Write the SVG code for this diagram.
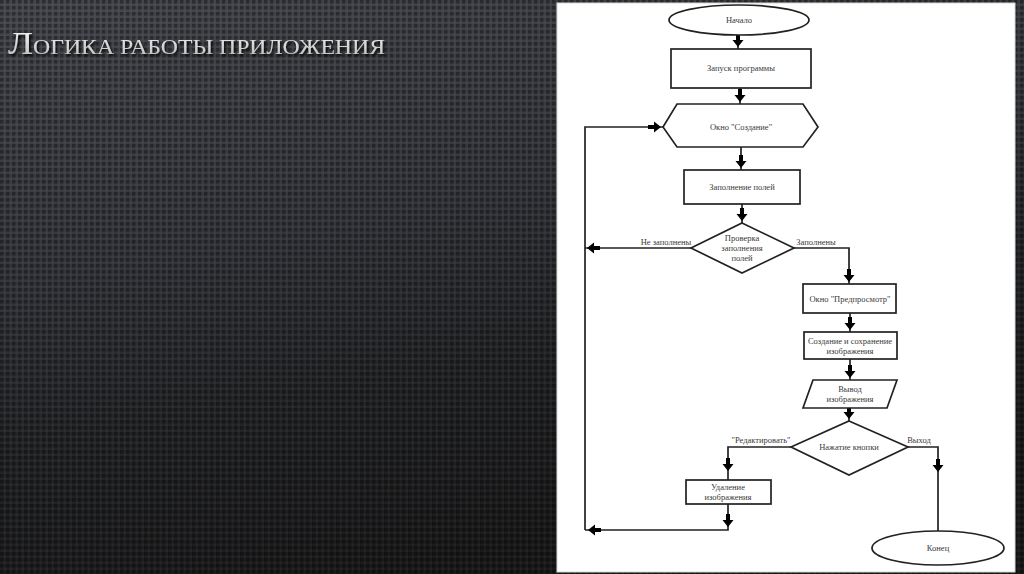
<svg xmlns="http://www.w3.org/2000/svg" xmlns:xlink="http://www.w3.org/1999/xlink" width="1024" height="574" viewBox="0 0 1024 574">
  <defs>
    <linearGradient id="bg" x1="0" y1="0" x2="0.35" y2="1">
      <stop offset="0" stop-color="#45474d"/>
      <stop offset="0.45" stop-color="#33353a"/>
      <stop offset="0.7" stop-color="#242527"/>
      <stop offset="1" stop-color="#1a1a1b"/>
    </linearGradient>
    <pattern id="dots" width="6" height="6" patternUnits="userSpaceOnUse">
      <rect x="0" y="0" width="3.5" height="3.5" fill="#000" fill-opacity="0.35"/>
      <rect x="3.5" y="3.5" width="2.5" height="2.5" fill="#fff" fill-opacity="0.04"/>
    </pattern>
    <linearGradient id="tg" x1="0" y1="0" x2="0" y2="1">
      <stop offset="0" stop-color="#ffffff"/>
      <stop offset="1" stop-color="#b8b8b8"/>
    </linearGradient>
    <filter id="sh" x="-5%" y="-30%" width="110%" height="160%">
      <feDropShadow dx="1.5" dy="2" stdDeviation="1.2" flood-color="#000" flood-opacity="0.9"/>
    </filter>
    <path id="arr" d="M-2,-13 H2 V-7 H5.5 L0,0 L-5.5,-7 H-2 Z" fill="#000"/>
  </defs>
  <style>
    .shape { fill: #fff; stroke: #222; stroke-width: 1.7; }
    .line { fill: none; stroke: #222; stroke-width: 1.7; }
    .t { font-family: "Liberation Serif", "Times New Roman", serif; font-size: 8.5px; fill: #3a3a3a; text-anchor: middle; }
    .title { font-family: "Liberation Serif", "Times New Roman", serif; fill: url(#tg); filter: url(#sh); }
  </style>

  <rect width="1024" height="574" fill="url(#bg)"/>
  <rect width="1024" height="574" fill="url(#dots)"/>

  <text class="title" x="8" y="54" textLength="377" lengthAdjust="spacingAndGlyphs"><tspan font-size="32">Л</tspan><tspan font-size="20.5">ОГИКА РАБОТЫ ПРИЛОЖЕНИЯ</tspan></text>

  <rect x="557" y="3" width="458" height="569" fill="#fff" stroke="#d8d8d8" stroke-width="1"/>

  <g id="connectors">
    <line class="line" x1="738" y1="35" x2="738" y2="49"/>
    <line class="line" x1="740" y1="88" x2="740" y2="104"/>
    <line class="line" x1="741" y1="147" x2="741" y2="170"/>
    <line class="line" x1="742" y1="204" x2="742" y2="223"/>
    <polyline class="line" points="691,248 585,248"/>
    <polyline class="line" points="794,248 849,248 849,284"/>
    <line class="line" x1="850" y1="313" x2="850" y2="332"/>
    <line class="line" x1="850" y1="359" x2="850" y2="380"/>
    <line class="line" x1="849" y1="408" x2="849" y2="421"/>
    <polyline class="line" points="791,447 728,447 728,480"/>
    <polyline class="line" points="908,447 938,447 938,531"/>
    <polyline class="line" points="728,504 728,530 585,530"/>
    <polyline class="line" points="585,530 585,127 663,127"/>
    <use xlink:href="#arr" transform="translate(738,47)"/>
    <use xlink:href="#arr" transform="translate(740,102)"/>
    <use xlink:href="#arr" transform="translate(741,168)"/>
    <use xlink:href="#arr" transform="translate(742,221)"/>
    <use xlink:href="#arr" transform="translate(587,248) rotate(90)"/>
    <use xlink:href="#arr" transform="translate(849,282)"/>
    <use xlink:href="#arr" transform="translate(850,330)"/>
    <use xlink:href="#arr" transform="translate(850,378)"/>
    <use xlink:href="#arr" transform="translate(849,419)"/>
    <use xlink:href="#arr" transform="translate(728,471)"/>
    <use xlink:href="#arr" transform="translate(938,472)"/>
    <use xlink:href="#arr" transform="translate(728,527)"/>
    <use xlink:href="#arr" transform="translate(588,530) rotate(90)"/>
    <use xlink:href="#arr" transform="translate(661,127) rotate(-90)"/>
    <text class="t" x="666" y="245">Не заполнены</text>
    <text class="t" x="816" y="245">Заполнены</text>
    <text class="t" x="761" y="443">"Редактировать"</text>
    <text class="t" x="919" y="443">Выход</text>
  </g>

  <g id="start">
    <ellipse class="shape" cx="739" cy="20" rx="70" ry="15"/>
    <text class="t" x="739" y="23">Начало</text>
  </g>
  <g id="launch">
    <rect class="shape" x="671" y="49" width="140" height="39"/>
    <text class="t" x="741" y="71">Запуск программы</text>
  </g>
  <g id="create-window">
    <polygon class="shape" points="663,127 677,104 803,104 818,127 803,147 677,147"/>
    <text class="t" x="741" y="130">Окно "Создание"</text>
  </g>
  <g id="fill-fields">
    <rect class="shape" x="684" y="170" width="116" height="34"/>
    <text class="t" x="742" y="190">Заполнение полей</text>
  </g>
  <g id="check">
    <polygon class="shape" points="742,223 794,248 742,273 691,248"/>
    <text class="t" x="742" y="241">Проверка</text>
    <text class="t" x="742" y="251">заполнения</text>
    <text class="t" x="742" y="261">полей</text>
  </g>
  <g id="preview">
    <rect class="shape" x="803" y="284" width="93" height="29"/>
    <text class="t" x="850" y="302">Окно "Предпросмотр"</text>
  </g>
  <g id="save">
    <rect class="shape" x="804" y="332" width="93" height="27"/>
    <text class="t" x="850" y="344">Создание и сохранение</text>
    <text class="t" x="850" y="354">изображения</text>
  </g>
  <g id="output">
    <polygon class="shape" points="813,380 897,380 887,408 803,408"/>
    <text class="t" x="850" y="392">Вывод</text>
    <text class="t" x="850" y="402">изображения</text>
  </g>
  <g id="button">
    <polygon class="shape" points="849,421 908,447 849,475 791,447"/>
    <text class="t" x="849" y="450">Нажатие кнопки</text>
  </g>
  <g id="delete">
    <rect class="shape" x="686" y="480" width="85" height="24"/>
    <text class="t" x="728" y="490">Удаление</text>
    <text class="t" x="728" y="500">изображения</text>
  </g>
  <g id="end">
    <ellipse class="shape" cx="938" cy="548" rx="66" ry="17"/>
    <text class="t" x="938" y="551">Конец</text>
  </g>
</svg>
